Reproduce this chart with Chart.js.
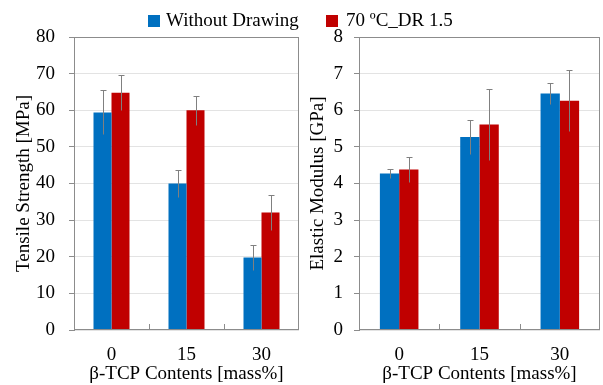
<!DOCTYPE html>
<html>
<head>
<meta charset="utf-8">
<script src="https://cdn.jsdelivr.net/npm/chart.js@4.4.1/dist/chart.umd.min.js"></script>
<style>
  html, body { margin: 0; padding: 0; background: #fff; }
  #wrap { position: relative; width: 603px; height: 385px; overflow: hidden; font-family: "Liberation Serif", "Times New Roman", serif; }
  canvas { position: absolute; top: 0; }
  #c1 { left: 0; }
  #c2 { left: 300px; }
  .leg { position: absolute; top: 9px; font-size: 19px; line-height: 22px; color: #000; white-space: nowrap; }
  .sw { position: absolute; top: 15px; width: 12px; height: 12px; }
</style>
</head>
<body>
<div id="wrap">
  <canvas id="c1" width="300" height="385"></canvas>
  <canvas id="c2" width="303" height="385"></canvas>
  <span class="sw" style="left:148px;background:#0070C0"></span>
  <div class="leg" style="left:166px">Without Drawing</div>
  <span class="sw" style="left:326px;background:#C00000"></span>
  <div class="leg" style="left:346px">70 ºC_DR 1.5</div>
</div>
<script>
const categories = ['0', '15', '30'];
const seriesNames = ['Without Drawing', '70 ºC_DR 1.5'];

const tensileWithout = [59.4, 40.0, 19.8];
const tensileWithoutErr = [6.0, 3.7, 3.4];
const tensileDrawn = [64.8, 60.0, 32.1];
const tensileDrawnErr = [4.7, 3.9, 4.7];

const modulusWithout = [4.27, 5.27, 6.46];
const modulusWithoutErr = [0.13, 0.46, 0.29];
const modulusDrawn = [4.38, 5.61, 6.26];
const modulusDrawnErr = [0.34, 0.96, 0.83];

const FONT = "'Liberation Serif', 'Times New Roman', serif";
const BLUE = '#0070C0', RED = '#C00000';
const FRAME = '#8c8c8c', GRID = '#e3e3e3', ERR = '#808080';

const decorPlugin = {
  id: 'decor',
  afterDatasetsDraw(chart) {
    const ctx = chart.ctx;
    const ys = chart.scales.y;
    ctx.save();
    ctx.strokeStyle = ERR;
    ctx.lineWidth = 1;
    chart.data.datasets.forEach((ds, di) => {
      const meta = chart.getDatasetMeta(di);
      meta.data.forEach((bar, i) => {
        const v = ds.data[i], e = ds.errors[i];
        const x = Math.round(bar.x) + 0.5;
        const t = Math.round(ys.getPixelForValue(v + e)) + 0.5;
        const b = Math.round(ys.getPixelForValue(v - e)) + 0.5;
        ctx.beginPath();
        ctx.moveTo(x, t); ctx.lineTo(x, b);
        ctx.moveTo(x - 3, t); ctx.lineTo(x + 3, t);
        ctx.stroke();
      });
    });
    ctx.restore();
  },
  afterDraw(chart) {
    const ctx = chart.ctx;
    const a = chart.chartArea;
    const xs = chart.scales.x;
    ctx.save();
    ctx.strokeStyle = FRAME;
    ctx.lineWidth = 1;
    ctx.strokeRect(Math.round(a.left) + 0.5, Math.round(a.top) + 0.5,
                   Math.round(a.right - a.left) - 1, Math.round(a.bottom - a.top) - 1);
    ctx.beginPath();
    for (let i = 0; i < categories.length - 1; i++) {
      const bx = Math.round((xs.getPixelForTick(i) + xs.getPixelForTick(i + 1)) / 2) + 0.5;
      ctx.moveTo(bx, a.bottom - 1);
      ctx.lineTo(bx, a.bottom - 6);
    }
    ctx.stroke();
    ctx.restore();
  }
};

function makeChart(id, d1, e1, d2, e2, yMax, step, yTitle, axisW, tickPad, titlePadTop, padRight) {
  return new Chart(document.getElementById(id), {
    type: 'bar',
    data: {
      labels: categories,
      datasets: [
        { label: seriesNames[0], data: d1, errors: e1, backgroundColor: BLUE, borderWidth: 0 },
        { label: seriesNames[1], data: d2, errors: e2, backgroundColor: RED, borderWidth: 0 }
      ]
    },
    options: {
      responsive: false,
      animation: false,
      devicePixelRatio: 1,
      layout: { padding: { top: 37, right: padRight, left: 0, bottom: 0 } },
      datasets: { bar: { categoryPercentage: 0.48, barPercentage: 1.0 } },
      plugins: { legend: { display: false }, tooltip: { enabled: false } },
      scales: {
        x: {
          grid: { display: false, drawTicks: false },
          border: { display: false },
          ticks: { color: '#000', font: { family: FONT, size: 19 }, padding: 14 },
          title: { display: true, text: 'β-TCP Contents [mass%]', color: '#000',
                   font: { family: FONT, size: 19 }, padding: { top: 0, bottom: 0 } },
          afterFit(s) { s.height = 55; }
        },
        y: {
          min: 0, max: yMax,
          ticks: { stepSize: step, color: '#000', font: { family: FONT, size: 19 }, padding: tickPad },
          grid: { color: GRID, tickColor: FRAME, tickLength: 5, lineWidth: 1 },
          border: { display: true, color: FRAME },
          title: { display: true, text: yTitle, color: '#000',
                   font: { family: FONT, size: 19 }, padding: { top: titlePadTop, bottom: 0 } },
          afterFit(s) { s.width = axisW; }
        }
      }
    },
    plugins: [decorPlugin]
  });
}

makeChart('c1', tensileWithout, tensileWithoutErr, tensileDrawn, tensileDrawnErr,
          80, 10, 'Tensile Strength [MPa]', 74, 14, 13, 1);
makeChart('c2', modulusWithout, modulusWithoutErr, modulusDrawn, modulusDrawnErr,
          8, 1, 'Elastic Modulus [GPa]', 59, 11, 7, 3);
</script>
</body>
</html>
